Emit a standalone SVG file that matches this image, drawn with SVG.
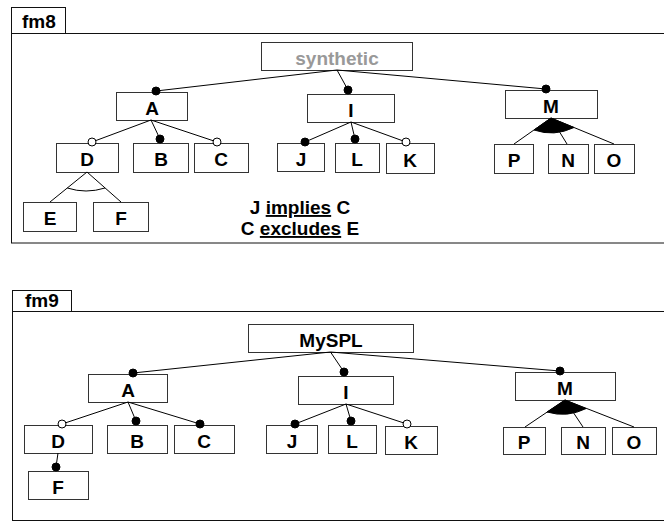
<svg xmlns="http://www.w3.org/2000/svg" width="664" height="521" viewBox="0 0 664 521">
<style>
.frame{fill:none;stroke:#111;stroke-width:1}
.box{fill:#fff;stroke:#333;stroke-width:1}
.lbl{font-family:"Liberation Sans",Arial,sans-serif;font-weight:bold;font-size:19px;fill:#000;text-anchor:middle}
.tab{font-family:"Liberation Sans",Arial,sans-serif;font-weight:bold;font-size:19px;fill:#000}
.ln{stroke:#000;stroke-width:1;fill:none}
.fd{fill:#000;stroke:#000;stroke-width:1}
.od{fill:#fff;stroke:#000;stroke-width:1}
</style>
<rect width="664" height="521" fill="#fff"/>
<g id="frame-fm8">
<rect x="11.5" y="7.5" width="54" height="26" class="frame"/>
<text x="22" y="28" class="tab">fm8</text>
<rect x="11.5" y="33.5" width="700" height="209.5" class="frame"/>
</g>
<g id="frame-fm9">
<rect x="12.5" y="290.5" width="59" height="21" class="frame"/>
<text x="25" y="307" class="tab">fm9</text>
<rect x="12.5" y="311.5" width="700" height="209" class="frame" stroke="#888"/>
</g>
<!-- fm8 nodes -->
<g id="fm8-synthetic"><rect x="261.5" y="42.5" width="151" height="28" class="box" stroke="#777"/><text x="337" y="65" class="lbl" style="fill:#999">synthetic</text></g>
<g id="fm8-A"><rect x="116.5" y="92.5" width="71" height="28" class="box"/><text x="152" y="115" class="lbl">A</text></g>
<g id="fm8-I"><rect x="307.5" y="94.5" width="87" height="28" class="box"/><text x="351" y="117" class="lbl">I</text></g>
<g id="fm8-M"><rect x="505.5" y="90.5" width="92" height="28" class="box"/><text x="551" y="113" class="lbl">M</text></g>
<g id="fm8-D"><rect x="56.5" y="143.5" width="62" height="29" class="box"/><text x="87" y="166" class="lbl">D</text></g>
<g id="fm8-B"><rect x="133.5" y="143.5" width="55" height="29" class="box"/><text x="161" y="166" class="lbl">B</text></g>
<g id="fm8-C"><rect x="194.5" y="143.5" width="54" height="29" class="box"/><text x="221" y="166" class="lbl">C</text></g>
<g id="fm8-J"><rect x="277.5" y="143.5" width="47" height="28" class="box"/><text x="301" y="166" class="lbl">J</text></g>
<g id="fm8-L"><rect x="335.5" y="143.5" width="44" height="29" class="box"/><text x="357" y="166" class="lbl">L</text></g>
<g id="fm8-K"><rect x="386.5" y="143.5" width="48" height="30" class="box"/><text x="410" y="167" class="lbl">K</text></g>
<g id="fm8-P"><rect x="494.5" y="144.5" width="39" height="29" class="box"/><text x="514" y="167" class="lbl">P</text></g>
<g id="fm8-N"><rect x="548.5" y="144.5" width="40" height="29" class="box"/><text x="568" y="167" class="lbl">N</text></g>
<g id="fm8-O"><rect x="594.5" y="144.5" width="40" height="29" class="box"/><text x="614" y="167" class="lbl">O</text></g>
<g id="fm8-E"><rect x="23.5" y="202.5" width="53" height="29" class="box"/><text x="50" y="225" class="lbl">E</text></g>
<g id="fm8-F"><rect x="93.5" y="202.5" width="55" height="29" class="box"/><text x="121" y="225" class="lbl">F</text></g>
<g id="fm8-constraints">
<text x="300" y="214" class="lbl">J <tspan text-decoration="underline">implies</tspan> C</text>
<text x="300" y="235" class="lbl">C <tspan text-decoration="underline">excludes</tspan> E</text>
</g>
<!-- fm9 nodes -->
<g id="fm9-MySPL"><rect x="248.5" y="324.5" width="165" height="28" class="box"/><text x="331" y="347" class="lbl">MySPL</text></g>
<g id="fm9-A"><rect x="88.5" y="374.5" width="79" height="28" class="box"/><text x="128" y="397" class="lbl">A</text></g>
<g id="fm9-I"><rect x="298.5" y="376.5" width="95" height="28" class="box"/><text x="346" y="399" class="lbl">I</text></g>
<g id="fm9-M"><rect x="515.5" y="372.5" width="100" height="28" class="box"/><text x="565" y="395" class="lbl">M</text></g>
<g id="fm9-D"><rect x="24.5" y="425.5" width="68" height="28" class="box"/><text x="58" y="448" class="lbl">D</text></g>
<g id="fm9-B"><rect x="107.5" y="425.5" width="60" height="28" class="box"/><text x="137" y="448" class="lbl">B</text></g>
<g id="fm9-C"><rect x="174.5" y="425.5" width="60" height="28" class="box"/><text x="204" y="448" class="lbl">C</text></g>
<g id="fm9-F"><rect x="28.5" y="471.5" width="60" height="28" class="box"/><text x="58" y="494" class="lbl">F</text></g>
<g id="fm9-J"><rect x="266.5" y="425.5" width="51" height="28" class="box"/><text x="292" y="448" class="lbl">J</text></g>
<g id="fm9-L"><rect x="328.5" y="425.5" width="48" height="28" class="box"/><text x="352" y="448" class="lbl">L</text></g>
<g id="fm9-K"><rect x="385.5" y="426.5" width="52" height="28" class="box"/><text x="411" y="449" class="lbl">K</text></g>
<g id="fm9-P"><rect x="503.5" y="427.5" width="42" height="27" class="box"/><text x="524" y="449" class="lbl">P</text></g>
<g id="fm9-N"><rect x="561.5" y="427.5" width="44" height="27" class="box"/><text x="583" y="449" class="lbl">N</text></g>
<g id="fm9-O"><rect x="612.5" y="427.5" width="44" height="27" class="box"/><text x="634" y="449" class="lbl">O</text></g>
<g id="connectors">
<!-- fm8 -->
<path class="ln" d="M337 70 L156 91 M337 70 L348 90 M337 70 L546 89"/>
<path class="ln" d="M151 120 L92 142 M151 120 L160 139 M151 120 L217 142"/>
<path class="ln" d="M351 122 L305 142 M351 122 L355 139 M351 122 L406 142"/>
<path class="ln" d="M551 118 L514 144 M551 118 L567 144 M551 118 L614 144"/>
<path class="ln" d="M87 172 L50 202 M87 172 L121 202"/>
<path class="ln" d="M67.3 188 Q86 194 105 188"/>
<path class="fd" d="M551 118 L534 130 Q554 137 574 127.5 Z"/>
<circle cx="156" cy="91" r="4" class="fd"/>
<circle cx="348" cy="90" r="4" class="fd"/>
<circle cx="546" cy="89" r="4" class="fd"/>
<circle cx="92" cy="142" r="4" class="od"/>
<circle cx="160" cy="139" r="4" class="fd"/>
<circle cx="217" cy="142" r="4" class="od"/>
<circle cx="305" cy="142" r="4" class="fd"/>
<circle cx="355" cy="139" r="4" class="fd"/>
<circle cx="406" cy="142" r="4" class="od"/>
<!-- fm9 -->
<path class="ln" d="M330.5 352 L133 373 M330.5 352 L344 372 M330.5 352 L560 371"/>
<path class="ln" d="M128 402 L62 424 M128 402 L136 421 M128 402 L200 424"/>
<path class="ln" d="M58 453 L56 467"/>
<path class="ln" d="M346 404 L295 424 M346 404 L351 421 M346 404 L407 424"/>
<path class="ln" d="M565 400 L525 427 M565 400 L583 427 M565 400 L634 427"/>
<path class="fd" d="M565 400 L547 412 Q567 418 586 408.6 Z"/>
<circle cx="133" cy="373" r="4" class="fd"/>
<circle cx="344" cy="372" r="4" class="fd"/>
<circle cx="560" cy="371" r="4" class="fd"/>
<circle cx="62" cy="424" r="4" class="od"/>
<circle cx="136" cy="421" r="4" class="fd"/>
<circle cx="200" cy="424" r="4" class="fd"/>
<circle cx="56" cy="467" r="4" class="fd"/>
<circle cx="295" cy="424" r="4" class="fd"/>
<circle cx="351" cy="421" r="4" class="fd"/>
<circle cx="407" cy="424" r="4" class="od"/>
</g>
</svg>
